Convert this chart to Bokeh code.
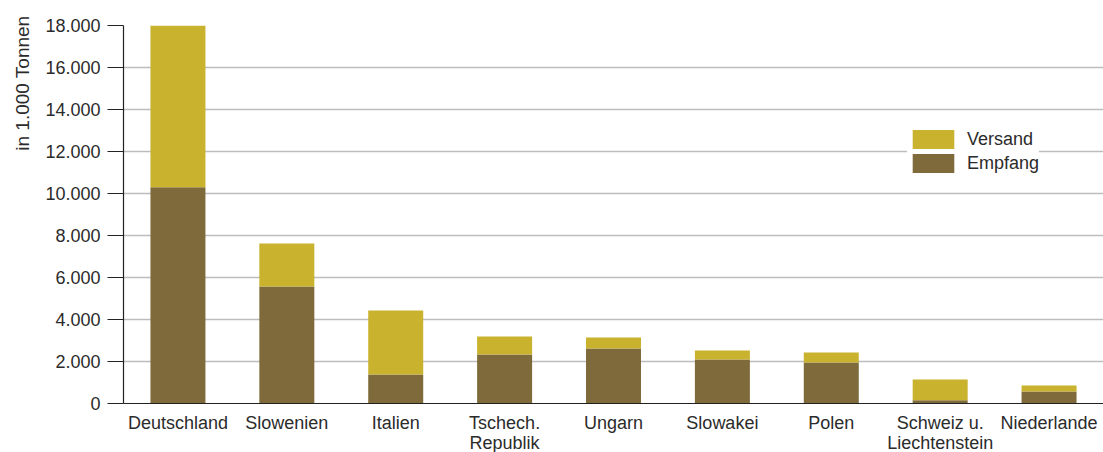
from bokeh.plotting import figure
from bokeh.models import (FactorRange, Range1d, FixedTicker, Legend, LegendItem, Title,
                          ColumnDataSource)
from bokeh.embed import file_html
from bokeh.resources import INLINE

# ---- data (in 1.000 Tonnen) ----
countries = ["Deutschland", "Slowenien", "Italien", "Tschech.\nRepublik", "Ungarn",
             "Slowakei", "Polen", "Schweiz u.\nLiechtenstein", "Niederlande"]
empfang = [10300, 5570, 1380, 2330, 2620, 2100, 1950, 150, 570]
versand = [7700, 2050, 3050, 860, 520, 420, 480, 990, 290]
y_ticks = [0, 2000, 4000, 6000, 8000, 10000, 12000, 14000, 16000, 18000]
y_tick_labels = ["0", "2.000", "4.000", "6.000", "8.000", "10.000", "12.000",
                 "14.000", "16.000", "18.000"]

C_VERSAND = "#C9B22D"
C_EMPFANG = "#7E6A3B"
TXT = "#2b2b2b"
FONT = "Liberation Sans"

src = ColumnDataSource(dict(cat=countries, Empfang=empfang, Versand=versand))

p = figure(x_range=FactorRange(*countries, range_padding=0),
           y_range=Range1d(0, 18000),
           frame_width=980, frame_height=378,
           min_border_left=123, min_border_top=25, min_border_right=0, min_border_bottom=0,
           output_backend="svg", toolbar_location=None)
p.x_range.range_padding = 0
p.outline_line_color = None
p.background_fill_color = "white"
p.border_fill_color = "white"

rs = p.vbar_stack(["Empfang", "Versand"], x="cat", width=0.505, source=src,
                  color=[C_EMPFANG, C_VERSAND], line_color=None)

# axes
xa = p.xaxis[0]
xa.major_tick_out = 0
xa.major_tick_in = 0
xa.minor_tick_out = 0
xa.axis_line_color = "#222222"
xa.axis_line_width = 1.2
xa.major_label_standoff = 9
xa.major_label_text_font = FONT
xa.major_label_text_font_size = "18px"
xa.major_label_text_color = TXT
xa.major_label_text_line_height = 1.0

ya = p.yaxis[0]
ya.ticker = FixedTicker(ticks=y_ticks)
ya.major_label_overrides = {t: l for t, l in zip(y_ticks, y_tick_labels)}
ya.major_tick_out = 16
ya.major_tick_in = 0
ya.minor_tick_out = 0
ya.minor_tick_in = 0
ya.axis_line_color = "#222222"
ya.major_tick_line_color = "#222222"
ya.axis_line_width = 1.2
ya.major_label_standoff = 7
ya.major_label_text_font = FONT
ya.major_label_text_font_size = "18px"
ya.major_label_text_color = TXT

p.xgrid.grid_line_color = None
p.ygrid.ticker = FixedTicker(ticks=y_ticks)
p.ygrid.grid_line_color = "#bdbdbd"
p.ygrid.grid_line_width = 1.5

# y-axis title (top aligned)
t = Title(text="in 1.000 Tonnen", align="right", text_font=FONT, text_font_size="19px",
          text_font_style="normal", text_color=TXT, offset=-10, standoff=19)
p.add_layout(t, "left")

legend = Legend(items=[LegendItem(label="Versand", renderers=[rs[1]]),
                       LegendItem(label="Empfang", renderers=[rs[0]])],
                location=(784, 228), orientation="vertical",
                glyph_width=52, glyph_height=24, label_height=23, label_standoff=8,
                spacing=0, padding=3, margin=0,
                label_text_font=FONT, label_text_font_size="18px", label_text_color=TXT,
                background_fill_color="white", background_fill_alpha=1.0,
                border_line_color=None)
p.add_layout(legend)

open("out.html", "w").write(file_html(p, INLINE))
